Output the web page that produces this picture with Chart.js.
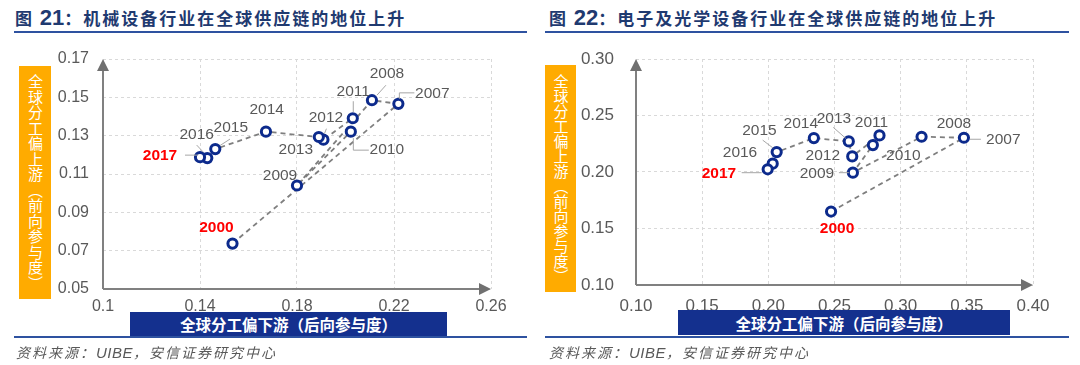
<!DOCTYPE html>
<html lang="zh-CN">
<head>
<meta charset="utf-8">
<title>全球供应链地位</title>
<script src="https://cdn.jsdelivr.net/npm/chart.js@4.4.1/dist/chart.umd.min.js"></script>
<style>
  html, body { margin: 0; padding: 0; background: #fff; }
  #page { position: relative; width: 1080px; height: 365px; overflow: hidden; font-family: "Noto Sans CJK SC", "Liberation Sans", sans-serif; }
  .panel { position: absolute; top: 0; width: 540px; height: 365px; }
  .panel canvas { position: absolute; left: 0; top: 0; }
  .title { position: absolute; top: 7px; font-size: 17px; font-weight: bold; color: #1f3a70; letter-spacing: 2px; white-space: nowrap; line-height: 22px; }
  .title .num { font-family: "Liberation Sans", sans-serif; font-size: 22px; letter-spacing: 0; }
  .rule { position: absolute; height: 2px; background: #2e52a0; }
  .ybox { position: absolute; background: #ffab00; color: #fff; writing-mode: vertical-rl; text-orientation: upright;
          display: flex; align-items: center; justify-content: center; font-size: 15px; line-height: 32px; }
  .xbox { position: absolute; background: #14308e; color: #fff; display: flex; align-items: center; justify-content: center;
          font-size: 15.5px; font-weight: bold; white-space: nowrap; }
  .src { position: absolute; top: 342px; font-size: 14px; font-style: italic; color: #595959; letter-spacing: 2px; white-space: nowrap; }
  .src .en { font-family: "Liberation Sans", sans-serif; letter-spacing: 0.5px; font-size: 15px; }
</style>
</head>
<body>
<div id="page">
  <div class="panel" style="left:0">
    <div class="title" style="left:15px">图 <span class="num">21</span>：机械设备行业在全球供应链的地位上升</div>
    <div class="rule" style="left:14px; top:31px; width:513px"></div>
    <canvas id="machChart" width="540" height="365"></canvas>
    <div class="ybox" style="left:19px; top:66px; width:32px; height:233px; letter-spacing:0.5px">全球分工偏上游（前向参与度）</div>
    <div class="xbox" style="left:130px; top:312px; width:317px; height:24px">全球分工偏下游（后向参与度）</div>
    <div class="rule" style="left:14px; top:336px; width:513px"></div>
    <div class="src" style="left:16px">资料来源：<span class="en">UIBE</span>，安信证券研究中心</div>
  </div>
  <div class="panel" style="left:540px">
    <div class="title" style="left:9px">图 <span class="num">22</span>：电子及光学设备行业在全球供应链的地位上升</div>
    <div class="rule" style="left:5px; top:31px; width:524px"></div>
    <canvas id="elecChart" width="540" height="365"></canvas>
    <div class="ybox" style="left:5px; top:65px; width:31px; height:227px">全球分工偏上游（前向参与度）</div>
    <div class="xbox" style="left:138px; top:310px; width:332px; height:25px">全球分工偏下游（后向参与度）</div>
    <div class="rule" style="left:5px; top:336px; width:524px"></div>
    <div class="src" style="left:9px">资料来源：<span class="en">UIBE</span>，安信证券研究中心</div>
  </div>
</div>

<script>
// 年份
const years = ['2000', '2007', '2008', '2009', '2010', '2011', '2012', '2013', '2014', '2015', '2016', '2017'];

// 图21 机械设备：后向参与度(x) / 前向参与度(y)
const machBack = [0.1534, 0.2218, 0.2109, 0.1800, 0.2022, 0.2030, 0.1909, 0.1890, 0.1672, 0.1463, 0.1430, 0.1400];
const machFwd  = [0.0737, 0.1466, 0.1485, 0.1040, 0.1321, 0.1391, 0.1279, 0.1293, 0.1321, 0.1230, 0.1183, 0.1188];
const machXTicks = [0.10, 0.14, 0.18, 0.22, 0.26];
const machXLabels = ['0.1', '0.14', '0.18', '0.22', '0.26'];
const machYTicks = [0.05, 0.07, 0.09, 0.11, 0.13, 0.15, 0.17];
const machYLabels = ['0.05', '0.07', '0.09', '0.11', '0.13', '0.15', '0.17'];

// 图22 电子及光学设备
const elecBack = [0.2474, 0.3478, 0.3158, 0.2639, 0.2790, 0.2840, 0.2634, 0.2608, 0.2344, 0.2063, 0.2033, 0.1995];
const elecFwd  = [0.1650, 0.2303, 0.2312, 0.1994, 0.2238, 0.2324, 0.2138, 0.2271, 0.2300, 0.2176, 0.2074, 0.2024];
const elecXTicks = [0.10, 0.15, 0.20, 0.25, 0.30, 0.35, 0.40];
const elecXLabels = ['0.10', '0.15', '0.20', '0.25', '0.30', '0.35', '0.40'];
const elecYTicks = [0.10, 0.15, 0.20, 0.25, 0.30];
const elecYLabels = ['0.10', '0.15', '0.20', '0.25', '0.30'];

// 标注位置（相对数据点的像素偏移）与引导线
const machLabelPos = {
    '2000': { dx: -16, dy: -16, hi: true },
    '2007': { dx: 34, dy: -10.5, lead: [[16, -11], [1, -11], [1, -5]] },
    '2008': { dx: 15, dy: -26, lead: [[14, -15], [5, -5]] },
    '2009': { dx: -17, dy: -9.5 },
    '2010': { dx: 36, dy: 18.5, lead: [[18, 18.5], [2.5, 18.5], [2.5, 6.5]] },
    '2011': { dx: 0.5, dy: -26.5, lead: [[0.5, -17], [0.5, -6]] },
    '2012': { dx: 2.5, dy: -21.5, lead: [[3, -11], [1, -6]] },
    '2013': { dx: -23, dy: 13 },
    '2014': { dx: 0.7, dy: -21.6 },
    '2015': { dx: 15.5, dy: -21.4, lead: [[14.7, -10], [4.7, -3.5]] },
    '2016': { dx: -10.6, dy: -23, lead: [[-10.6, -13], [-4, -6]] },
    '2017': { dx: -40, dy: -1, hi: true, lead: [[-15, -2], [-2, -2]] }
};
const elecLabelPos = {
    '2000': { dx: 6, dy: 17.5, hi: true },
    '2007': { dx: 39.4, dy: 1.5, lead: [[17, 1.5], [6, 1.5]] },
    '2008': { dx: 32.4, dy: -13.4 },
    '2009': { dx: -36, dy: 0.6, lead: [[-14, 0], [-4, 0]] },
    '2010': { dx: 30.4, dy: 10.2 },
    '2011': { dx: -8, dy: -12.7 },
    '2012': { dx: -29.4, dy: -1 },
    '2013': { dx: -14.8, dy: -23, lead: [[-15.5, -14], [-3, -3]] },
    '2014': { dx: -13, dy: -14.8 },
    '2015': { dx: -17.2, dy: -21, lead: [[-14, -12], [-3.5, -4]] },
    '2016': { dx: -32.7, dy: -11.3 },
    '2017': { dx: -48.7, dy: 4, hi: true, lead: [[-26, 3.4], [-6, 3.4]] }
};

// 带箭头的坐标轴
const arrowAxes = {
    id: 'arrowAxes',
    beforeDatasetsDraw(chart) {
        const { ctx, chartArea: a } = chart;
        const h = 12, w = 6;
        ctx.save();
        ctx.strokeStyle = '#808080';
        ctx.fillStyle = '#707070';
        ctx.lineWidth = 2;
        ctx.beginPath();
        ctx.moveTo(a.left, a.bottom);
        ctx.lineTo(a.left, a.top + h);
        ctx.moveTo(a.left, a.bottom);
        ctx.lineTo(a.right - h, a.bottom);
        ctx.stroke();
        ctx.beginPath();
        ctx.moveTo(a.left, a.top);
        ctx.lineTo(a.left - w, a.top + h);
        ctx.lineTo(a.left + w, a.top + h);
        ctx.closePath();
        ctx.moveTo(a.right, a.bottom);
        ctx.lineTo(a.right - h, a.bottom - w);
        ctx.lineTo(a.right - h, a.bottom + w);
        ctx.closePath();
        ctx.fill();
        ctx.restore();
    }
};

// 年份标注
const yearLabels = {
    id: 'yearLabels',
    afterDatasetsDraw(chart, args, opts) {
        const { ctx } = chart;
        const xs = chart.scales.x, ys = chart.scales.y;
        const ds = chart.data.datasets[0].data;
        ctx.save();
        ctx.textAlign = 'center';
        ctx.textBaseline = 'middle';
        years.forEach((yr, i) => {
            const p = opts.pos[yr];
            if (!p) return;
            const px = xs.getPixelForValue(ds[i].x);
            const py = ys.getPixelForValue(ds[i].y);
            if (p.lead) {
                ctx.strokeStyle = '#a6a6a6';
                ctx.lineWidth = 1;
                ctx.beginPath();
                p.lead.forEach((pt, k) => {
                    if (k === 0) ctx.moveTo(px + pt[0], py + pt[1]);
                    else ctx.lineTo(px + pt[0], py + pt[1]);
                });
                ctx.stroke();
            }
            ctx.font = (p.hi ? 'bold ' : '') + opts.size + 'px "Liberation Sans", Arial, sans-serif';
            ctx.fillStyle = p.hi ? '#ff0000' : '#595959';
            ctx.fillText(yr, px + p.dx, py + p.dy);
        });
        ctx.restore();
    }
};

function makeChart(id, back, fwd, xTicks, xLabels, yTicks, yLabels, pos, cfg) {
    const gridStyle = { color: '#d9d9d9', lineWidth: 1, drawTicks: false };
    return new Chart(document.getElementById(id), {
        type: 'scatter',
        data: {
            datasets: [{
                data: years.map((y, i) => ({ x: back[i], y: fwd[i] })),
                showLine: true,
                borderColor: '#7f7f7f',
                borderWidth: 1.8,
                borderDash: [5, 4],
                pointRadius: 4.6,
                pointBorderWidth: 3,
                pointBorderColor: '#0c2a8c',
                pointBackgroundColor: '#ffffff'
            }]
        },
        options: {
            responsive: false,
            animation: false,
            events: [],
            layout: { padding: cfg.padding },
            plugins: {
                legend: { display: false },
                tooltip: { enabled: false },
                yearLabels: { pos: pos, size: cfg.labelSize }
            },
            scales: {
                x: {
                    type: 'linear',
                    min: xTicks[0],
                    max: xTicks[xTicks.length - 1],
                    afterBuildTicks: s => { s.ticks = xTicks.map(v => ({ value: v })); },
                    afterFit: s => { s.height = 30; },
                    grid: gridStyle,
                    border: { display: false, dash: [3, 3] },
                    ticks: {
                        autoSkip: false, maxRotation: 0, padding: cfg.xPad, color: '#595959',
                        font: { family: 'Liberation Sans', size: cfg.tickSize },
                        callback: (v, i) => xLabels[i]
                    }
                },
                y: {
                    type: 'linear',
                    min: yTicks[0],
                    max: yTicks[yTicks.length - 1],
                    afterBuildTicks: s => { s.ticks = yTicks.map(v => ({ value: v })); },
                    afterFit: s => { s.width = 70; },
                    grid: gridStyle,
                    border: { display: false, dash: [3, 3] },
                    ticks: {
                        autoSkip: false, padding: cfg.yPad, color: '#595959',
                        font: { family: 'Liberation Sans', size: cfg.tickSize },
                        callback: (v, i) => yLabels[i]
                    }
                }
            }
        },
        plugins: [arrowAxes, yearLabels]
    });
}

makeChart('machChart', machBack, machFwd, machXTicks, machXLabels, machYTicks, machYLabels, machLabelPos, {
    padding: { left: 33, right: 49, top: 59, bottom: 46 },
    tickSize: 16, labelSize: 15.5, xPad: 8, yPad: 14
});
makeChart('elecChart', elecBack, elecFwd, elecXTicks, elecXLabels, elecYTicks, elecYLabels, elecLabelPos, {
    padding: { left: 26, right: 47, top: 59, bottom: 50 },
    tickSize: 17, labelSize: 15.5, xPad: 11, yPad: 22
});
</script>
</body>
</html>
